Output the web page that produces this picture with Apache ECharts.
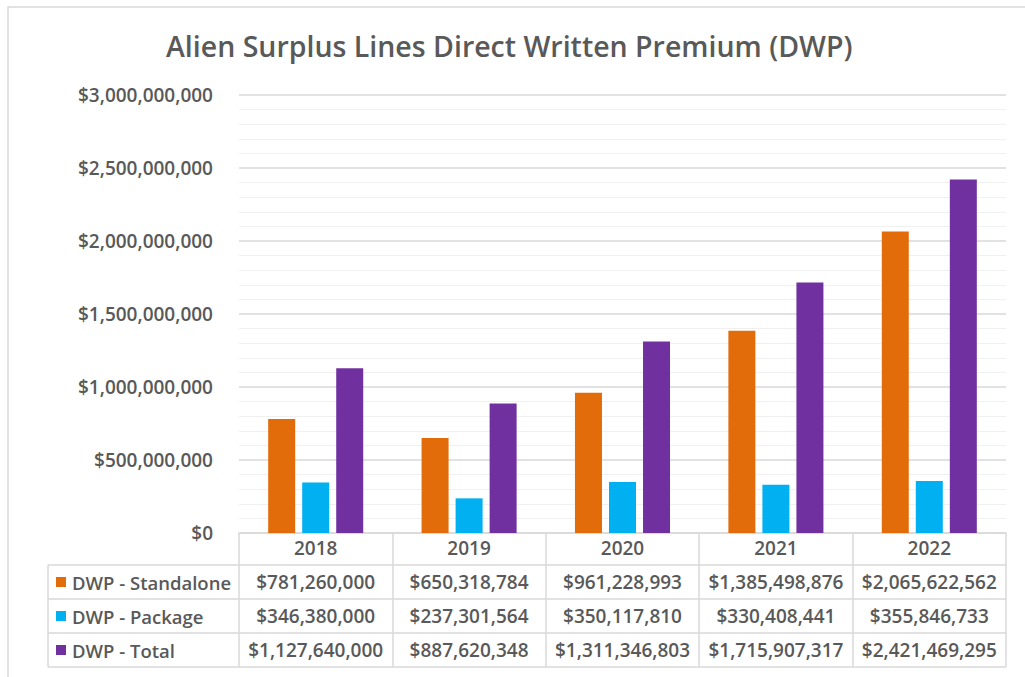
<!DOCTYPE html>
<html>
<head>
<meta charset="utf-8">
<script src="https://cdn.jsdelivr.net/npm/echarts@6/dist/echarts.min.js"></script>
<style>
  html, body { margin: 0; padding: 0; background: #fff; }
  #chart { width: 1025px; height: 677px; }
</style>
</head>
<body>
<div id="chart"></div>
<script>
const years = ["2018", "2019", "2020", "2021", "2022"];
const standalone = [781260000, 650318784, 961228993, 1385498876, 2065622562];
const packageDwp = [346380000, 237301564, 350117810, 330408441, 355846733];
const total = [1127640000, 887620348, 1311346803, 1715907317, 2421469295];
const seriesNames = ["DWP - Standalone", "DWP - Package", "DWP - Total"];
const colors = ["#E36C0A", "#00B0F0", "#7030A0"];
const yMax = 3000000000;
const yStep = 500000000;

const textColor = "#595959";
const lineColor = "#d9d9d9";
const font = "'Open Sans', sans-serif";

const money = (v) => "$" + Number(v).toLocaleString("en-US");

const renderChart = () => {
  const myChart = echarts.init(document.getElementById("chart"), null, { renderer: "svg" });
  const rows = [standalone, packageDwp, total];

  const option = {
    animation: false,
    title: {
      text: "Alien Surplus Lines Direct Written Premium (DWP)",
      left: 161,
      top: 26,
      textStyle: { color: textColor, fontFamily: font, fontSize: 28.5, fontWeight: 600 },
    },
    grid: { left: 239, right: 19, top: 95, bottom: 144 },
    xAxis: {
      type: "category",
      data: years,
      axisLine: { show: true, lineStyle: { color: lineColor, width: 1.5 } },
      // tick marks double as the table's column dividers
      axisTick: { show: true, interval: 0, length: 134, lineStyle: { color: lineColor, width: 1.5 } },
      axisLabel: { color: textColor, fontFamily: font, fontSize: 19, fontWeight: 600, margin: 5 },
    },
    yAxis: {
      type: "value",
      min: 0,
      max: yMax,
      interval: yStep,
      minorTick: { show: false, splitNumber: 5 },
      minorSplitLine: { show: true, lineStyle: { color: "#f0f0f0", width: 1.2 } },
      splitLine: { lineStyle: { color: lineColor, width: 1.5 } },
      axisLabel: {
        color: textColor, fontFamily: font, fontSize: 19, fontWeight: 600, margin: 26,
        formatter: (v) => money(v),
      },
    },
    series: rows.map((d, i) => ({
      name: seriesNames[i],
      type: "bar",
      data: d,
      barWidth: 27,
      barGap: "26%",
      itemStyle: { color: colors[i] },
    })),
  };
  myChart.setOption(option);

  // data table under the axis, positioned from the chart's own scale
  const x0 = myChart.convertToPixel({ xAxisIndex: 0 }, years[0]);
  const x1 = myChart.convertToPixel({ xAxisIndex: 0 }, years[1]);
  const colW = x1 - x0;
  const axisY = myChart.convertToPixel({ yAxisIndex: 0 }, 0);
  const rightEdge = x0 + colW * (years.length - 0.5);
  const headerH = 32;
  const rowH = 34;
  const legendLeft = 48;

  const graphic = [];
  graphic.push({
    type: "rect",
    shape: { x: 8, y: 7, width: 1040, height: 700 },
    style: { fill: "none", stroke: lineColor, lineWidth: 1.5 },
    silent: true,
  });
  for (let r = 0; r <= rows.length; r++) {
    const y = axisY + headerH + r * rowH;
    graphic.push({
      type: "line",
      shape: { x1: legendLeft, y1: y, x2: rightEdge, y2: y },
      style: { stroke: lineColor, lineWidth: 1.5 },
    });
  }
  graphic.push({
    type: "line",
    shape: { x1: legendLeft, y1: axisY + headerH, x2: legendLeft, y2: axisY + headerH + rows.length * rowH },
    style: { stroke: lineColor, lineWidth: 1.5 },
  });
  rows.forEach((d, r) => {
    const cy = axisY + headerH + r * rowH + rowH / 2;
    graphic.push({
      type: "rect",
      shape: { x: legendLeft + 8, y: cy - 5, width: 10, height: 10 },
      style: { fill: colors[r] },
    });
    graphic.push({
      type: "text",
      x: legendLeft + 24,
      y: cy,
      style: {
        text: seriesNames[r], fill: textColor, font: "600 18.5px " + font,
        verticalAlign: "middle", align: "left",
      },
    });
    d.forEach((v, c) => {
      graphic.push({
        type: "text",
        x: x0 + c * colW,
        y: cy,
        style: {
          text: money(v), fill: textColor, font: "600 19px " + font,
          verticalAlign: "middle", align: "center",
        },
      });
    });
  });
  myChart.setOption({ graphic: graphic });
};

document.addEventListener("DOMContentLoaded", renderChart);
</script>
</body>
</html>
